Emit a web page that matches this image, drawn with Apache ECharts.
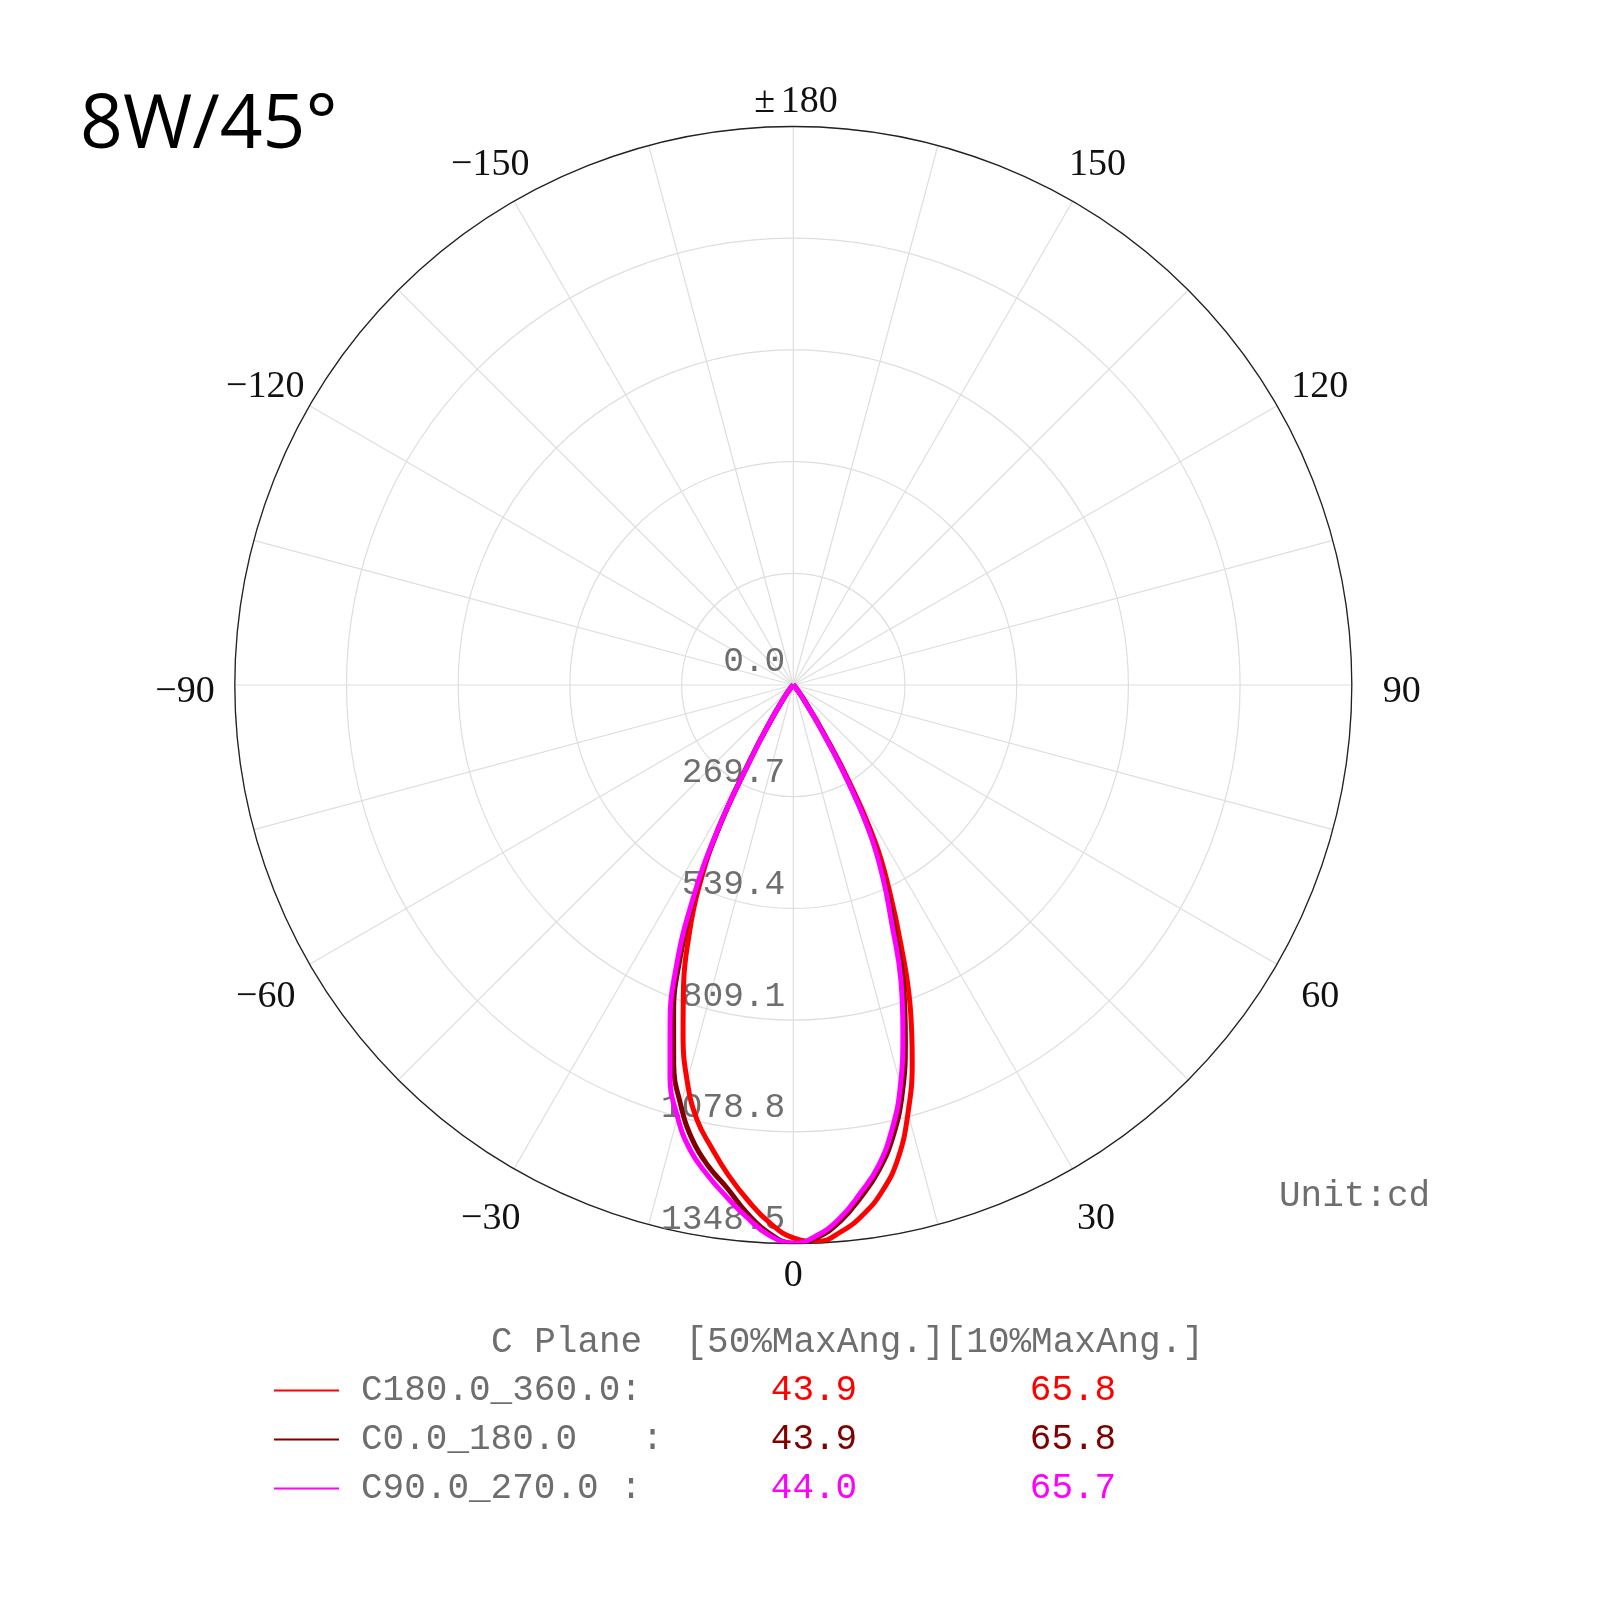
<!DOCTYPE html>
<html><head><meta charset="utf-8">
<script src="https://cdn.jsdelivr.net/npm/echarts@6/dist/echarts.min.js"></script>
<style>html,body{margin:0;padding:0;background:#fff}#c{width:1600px;height:1600px}</style>
</head><body><div id="c"></div>
<script>
// Polar angles (degrees, 0 = straight down, + = right side)
const angles = [-50,-47.5,-45,-42.5,-40,-37.5,-35,-32.5,-30,-27.5,-25,-22.5,-20,-17.5,-15,-12.5,-10,-7.5,-5,-2.5,0,2.5,5,7.5,10,12.5,15,17.5,20,22.5,25,27.5,30,32.5,35,37.5,40,42.5,45,47.5,50];
// Intensity values (cd)
const c180_360 = [0,2,5,8,12,25,45,95,200,390,540,660,775,885,990,1075,1135,1195,1250,1300,1335,1345,1325,1290,1240,1170,1070,955,825,680,550,430,270,130,55,28,14,9,6,3,0];
const c0_180   = [0,2,5,8,12,25,45,100,205,395,565,715,845,960,1050,1125,1180,1225,1280,1325,1348,1335,1300,1248,1190,1115,1018,900,780,640,520,400,245,115,52,26,13,8,5,2,0];
const c90_270  = [0,2,5,8,12,25,45,100,200,400,580,740,870,990,1080,1150,1200,1245,1290,1330,1348,1330,1292,1238,1180,1100,1000,880,760,620,510,395,240,110,50,25,12,8,5,2,0];

const seriesNames = ['C180.0_360.0','C0.0_180.0','C90.0_270.0'];
const planeLabels = ['C180.0_360.0:','C0.0_180.0   :','C90.0_270.0 :'];
const halfMaxAngle = ['43.9','43.9','44.0'];
const tenthMaxAngle = ['65.8','65.8','65.7'];
const radiusTicks = ['0.0','269.7','539.4','809.1','1078.8','1348.5'];
const angleTickLabels = ['0','30','60','90','120','150','180','−150','−120','−90','−60','−30'];
const seriesColors = ['#ff0000','#800000','#ff00ff'];
const seriesValues = [c180_360, c0_180, c90_270];

const GRAY = '#6e6e6e';
function toPolar(vals){ return vals.map((v,i)=>[v, (angles[i]+360)%360]); }

// per-label nudges (padding) for the angle tick labels
const anglePads = [[45,0,0,0],[58,0,0,20],[29,0,0,51],[14,0,0,62],[0,0,15,41],[0,0,44,12],
                   [0,0,36,0],[0,0,44,0],[0,32,15,0],[14,51,0,0],[29,41,0,0],[58,9,0,0]];
const angleRich = {};
anglePads.forEach((p,i)=>{ angleRich['l'+i] = {padding:p, fontFamily:'Liberation Serif', fontSize:38, color:'#111'}; });
angleRich.pm = {padding:[0,0,36,0], width:32, align:'center', fontFamily:'Liberation Serif', fontSize:38, color:'#111'};

const rich = { s:{width:17}, n:{width:390, color:GRAY} };
seriesColors.forEach((c,i)=>{
  rich['a'+i] = {width:126, align:'center', color:c};
  rich['b'+i] = {width:392, align:'center', color:c};
});

const chart = echarts.init(document.getElementById('c'));
chart.setOption({
  animation:false,
  backgroundColor:'#fff',
  title:[
    {text:'8W/45°', left:80, top:89, padding:0,
     textStyle:{fontFamily:'Open Sans', fontSize:75, fontWeight:'normal', color:'#000', lineHeight:75}},
    {text:'Unit:cd', left:1279, top:1178, padding:0,
     textStyle:{fontFamily:'Liberation Mono', fontSize:36, fontWeight:'normal', color:GRAY, lineHeight:36}},
    {text:'C Plane  [50%MaxAng.][10%MaxAng.]', left:491, top:1324, padding:0,
     textStyle:{fontFamily:'Liberation Mono', fontSize:36, fontWeight:'normal', color:GRAY, lineHeight:36}}
  ],
  legend:{
    orient:'vertical', left:274, top:1366, padding:0, itemGap:0,
    itemWidth:65, itemHeight:2, icon:'rect',
    data:seriesNames,
    formatter: name => {
      const i = seriesNames.indexOf(name);
      return '{s| }{n|'+planeLabels[i]+'}{a'+i+'|'+halfMaxAngle[i]+'}{b'+i+'|'+tenthMaxAngle[i]+'}';
    },
    textStyle:{fontFamily:'Liberation Mono', fontSize:36, color:GRAY, lineHeight:49, rich:rich}
  },
  polar:{center:[793.3,685], radius:558.5},
  angleAxis:{
    type:'value', min:0, max:360, interval:15, startAngle:-90, clockwise:false,
    axisLine:{show:true, lineStyle:{color:'#222', width:1.3}},
    axisTick:{show:false},
    splitLine:{show:true, lineStyle:{color:'#dedede', width:1.2}},
    axisLabel:{
      show:true, margin:-31, color:'#111', fontFamily:'Liberation Serif', fontSize:38,
      rich: angleRich,
      formatter: v => {
        const d = Math.round(v);
        if (d%30!==0 || d===360) return '';
        const i = d/30;
        if (i === 6) return '{pm|±}{l6|' + angleTickLabels[i] + '}';
        return '{l'+i+'|'+angleTickLabels[i]+'}';
      }
    }
  },
  radiusAxis:{
    type:'value', min:0, max:1348.5, interval:269.7,
    axisLine:{show:false}, axisTick:{show:false},
    splitLine:{show:true, lineStyle:{color:'#dedede', width:1.2}},
    axisLabel:{
      show:true, showMinLabel:true, showMaxLabel:true, hideOverlap:false,
      fontFamily:'Liberation Mono', fontSize:34.5, color:GRAY,
      align:'right', verticalAlign:'bottom', margin:8, padding:[0,16,6,0],
      formatter: v => radiusTicks[Math.round(v/269.7)]
    }
  },
  series: seriesNames.map((nm,i)=>({
    name:nm, type:'line', coordinateSystem:'polar',
    data: toPolar(seriesValues[i]),
    showSymbol:false, symbol:'none', smooth:0.45,
    color: seriesColors[i],
    lineStyle:{color:seriesColors[i], width:5},
    z: 2+i
  }))
});
</script>
</body></html>
